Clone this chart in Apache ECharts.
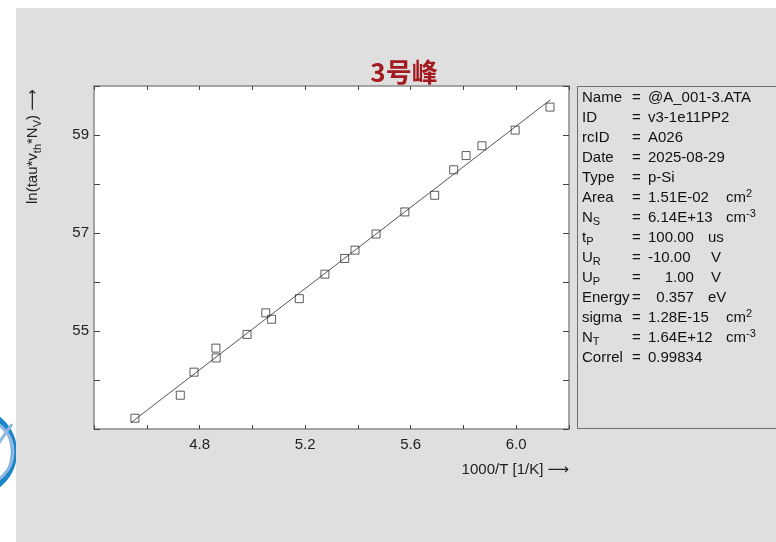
<!DOCTYPE html>
<html><head><meta charset="utf-8">
<script src="https://cdn.jsdelivr.net/npm/echarts@6/dist/echarts.min.js"></script>
<style>html,body{margin:0;padding:0;background:#fff}#c{width:776px;height:542px}</style>
</head><body><div id="c"></div>
<script>
const titleText = '3号峰';
const xAxisName = '1000/T [1/K] \u27F6';
const yAxisNameRich = 'ln(tau*v{s|th}*N{s|V}) \u27F6';
const xVals = [4.555, 4.727, 4.779, 4.862, 4.863, 4.980, 5.051, 5.073, 5.178, 5.275, 5.350, 5.389, 5.469, 5.578, 5.691, 5.763, 5.810, 5.870, 5.996, 6.128];
const yVals = [53.22, 53.69, 54.16, 54.65, 54.45, 54.93, 55.37, 55.24, 55.66, 56.16, 56.48, 56.65, 56.98, 57.43, 57.77, 58.29, 58.58, 58.78, 59.10, 59.57];
const fitX = [4.54, 6.13];
const fitY = [53.13, 59.72];
const xLabelTicks = [4.8, 5.2, 5.6, 6.0];
const yLabelTicks = [55, 57, 59];
const infoLabels = ['Name','ID','rcID','Date','Type','Area','N{s|S}','t{s|P}','U{s|R}','U{s|P}','Energy','sigma','N{s|T}','Correl'];
const infoValues = ['@A_001-3.ATA','v3-1e11PP2','A026','2025-08-29','p-Si','1.51E-02','6.14E+13','100.00','-10.00','    1.00','  0.357','1.28E-15','1.64E+12','0.99834'];
const infoUnits = ['','','','','','cm{p|2}','cm{p|-3}','us','V','V','eV','cm{p|2}','cm{p|-3}',''];

const FONT = '"Liberation Sans", Arial, "DejaVu Sans", sans-serif';
const chart = echarts.init(document.getElementById('c'), null, {renderer: 'canvas'});

const richInfo = {
  s: {fontSize: 11, lineHeight: 12, verticalAlign: 'bottom', fontFamily: FONT, fill: '#111', color: '#111'},
  p: {fontSize: 11, lineHeight: 13, verticalAlign: 'top', fontFamily: FONT, fill: '#111', color: '#111'}
};
function txt(x, y, text, extra) {
  return {
    type: 'text', x: x, y: y, z: 10,
    style: Object.assign({
      text: text, fontSize: 15, fontFamily: FONT, fill: '#111',
      align: 'left', verticalAlign: 'middle', textAlign: 'left', textVerticalAlign: 'middle',
      lineHeight: 19, rich: richInfo
    }, extra || {})
  };
}

const graphics = [];
// logo fragment at far left (under gray panel)
graphics.push({type: 'circle', shape: {cx: -28, cy: 452, r: 42}, style: {fill: 'none', stroke: '#1b87c9', lineWidth: 6}, z: 0});
graphics.push({type: 'circle', shape: {cx: -20, cy: 452, r: 33}, style: {fill: 'none', stroke: '#93b7e3', lineWidth: 3}, z: 0});
graphics.push({type: 'line', shape: {x1: -4, y1: 447, x2: 12, y2: 424}, style: {stroke: '#93b7e3', lineWidth: 3}, z: 0});
// gray panel
graphics.push({type: 'rect', shape: {x: 16, y: 8, width: 760, height: 534}, style: {fill: '#dfdfdf'}, z: 1});
// info box
graphics.push({type: 'rect', shape: {x: 577.5, y: 86.5, width: 210, height: 342}, style: {fill: 'none', stroke: '#6e6e6e', lineWidth: 1}, z: 5});
// title
graphics.push({type: 'text', x: 404, y: 72, z: 10, style: {text: titleText, fontSize: 26, fontWeight: 'bold', fontFamily: '"Noto Sans CJK SC", sans-serif', fill: '#a31a20', align: 'center', verticalAlign: 'middle', textAlign: 'center', textVerticalAlign: 'middle'}});
// axis names
graphics.push(txt(569, 470, xAxisName, {fontSize: 15, align: 'right', textAlign: 'right', fill: '#222'}));
graphics.push({type: 'text', x: 33, y: 204, rotation: Math.PI / 2, z: 10,
  style: {text: yAxisNameRich, fontSize: 15, fontFamily: FONT, fill: '#222', align: 'left', verticalAlign: 'middle', textAlign: 'left', textVerticalAlign: 'middle', lineHeight: 20,
    rich: {s: {fontSize: 11, lineHeight: 12, verticalAlign: 'bottom', fontFamily: FONT, fill: '#222'}}}});
// info lines
infoLabels.forEach((lab, i) => {
  const y = 98 + i * 20;
  graphics.push(txt(582, y, lab));
  graphics.push(txt(632, y, '='));
  graphics.push(txt(648, y, infoValues[i]));
  if (infoUnits[i]) {
    const u = infoUnits[i];
    graphics.push(txt(u.indexOf('cm') === 0 ? 726 : (u === 'V' ? 711 : 708), y, u));
  }
});

function axisCommon(pos, showLabel, labelVals, isX) {
  return {
    type: 'value', position: pos, gridIndex: 0, z: 6,
    min: isX ? 4.4 : 53, max: isX ? 6.2 : 60, interval: isX ? 0.2 : 1,
    axisLine: {show: false},
    axisTick: {show: true, inside: true, length: isX ? 4 : 6, lineStyle: {color: '#444', width: 1}},
    splitLine: {show: false},
    axisLabel: {
      show: showLabel, fontSize: 15, fontFamily: FONT, color: '#222', margin: isX ? 8 : 5,
      formatter: function (v) {
        const r = Math.round(v * 10) / 10;
        return labelVals.some(t => Math.abs(t - r) < 1e-6) ? (isX ? r.toFixed(1) : String(r)) : '';
      }
    }
  };
}

chart.setOption({
  animation: false,
  backgroundColor: '#fff',
  grid: {left: 94, top: 86, width: 475, height: 343, show: true, backgroundColor: '#fff', borderColor: '#8a8a8a', borderWidth: 1.5, z: 3},
  xAxis: [axisCommon('bottom', true, xLabelTicks, true), axisCommon('top', false, xLabelTicks, true)],
  yAxis: [axisCommon('left', true, yLabelTicks, false), axisCommon('right', false, yLabelTicks, false)],
  graphic: graphics,
  series: [
    {type: 'line', xAxisIndex: 0, yAxisIndex: 0, data: fitX.map((x, i) => [x, fitY[i]]), symbol: 'none', lineStyle: {color: '#555', width: 1}, z: 7, silent: true},
    {type: 'scatter', xAxisIndex: 0, yAxisIndex: 0, data: xVals.map((x, i) => [x, yVals[i]]), symbol: 'rect', symbolSize: 8,
      itemStyle: {color: 'rgba(0,0,0,0)', borderColor: '#333', borderWidth: 1}, z: 8}
  ]
});
</script></body></html>
